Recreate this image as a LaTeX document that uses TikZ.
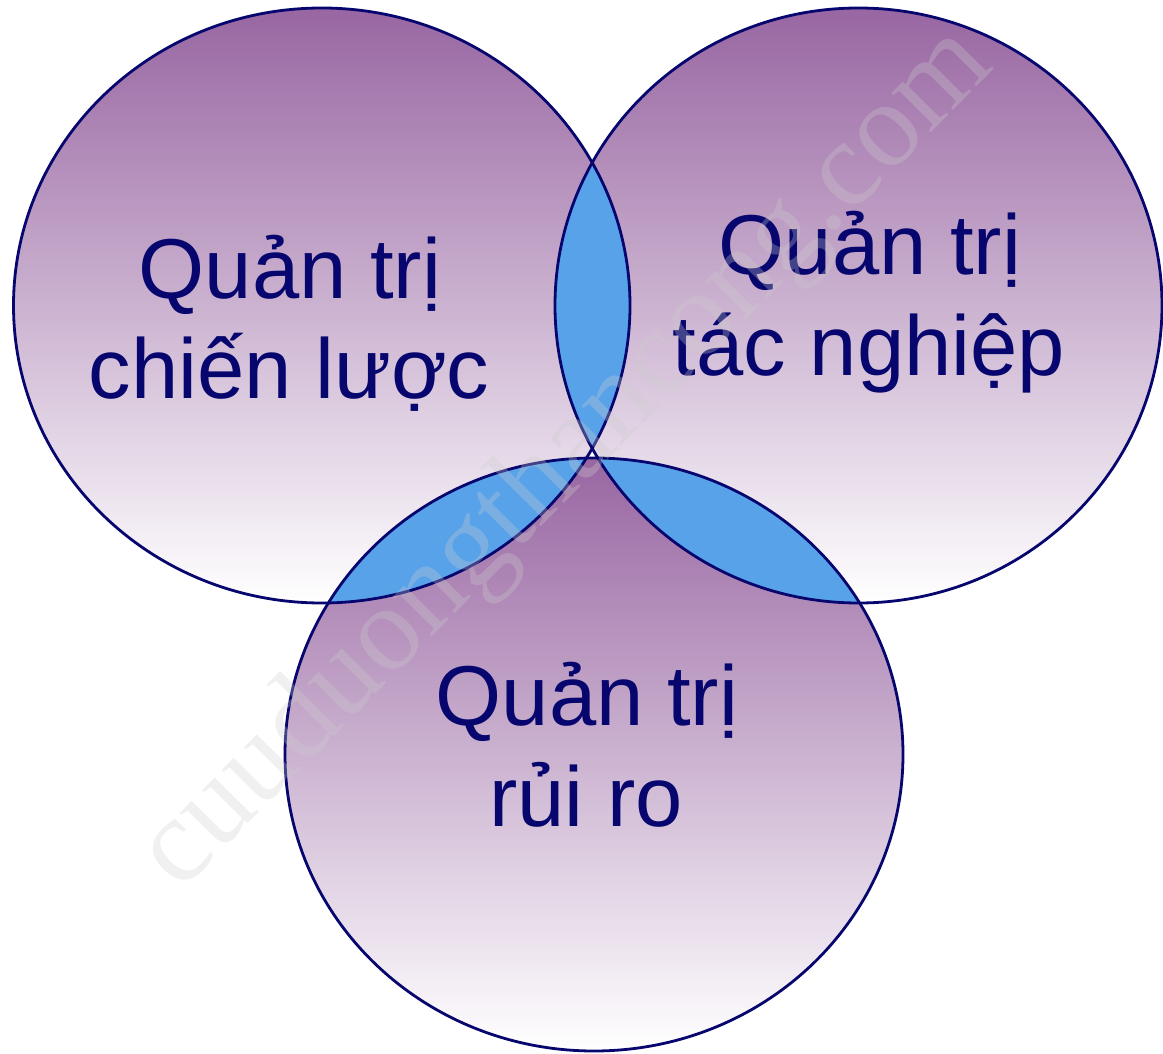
\documentclass[tikz,border=0pt]{standalone}
\usepackage{fontspec}
\setmainfont{Liberation Sans}
\newfontfamily\wmfont{Liberation Serif}
\definecolor{vpurple}{RGB}{152,102,162}
\definecolor{vblue}{RGB}{88,162,234}
\definecolor{vnavy}{RGB}{6,6,110}
\definecolor{wmgray}{RGB}{205,205,205}
\tikzset{
  setshade/.style={top color=vpurple, bottom color=white, draw=none},
  setline/.style={draw=vnavy, line width=2.8pt},
  lensfill/.style={fill=vblue},
  label/.style={text=vnavy, font=\fontsize{85}{100}\selectfont, anchor=base, inner sep=0pt},
  watermark/.style={text=wmgray, opacity=0.3, font=\wmfont\fontsize{121}{121}\selectfont, anchor=base, inner sep=0pt, rotate=45.3}
}
\begin{document}
\begin{tikzpicture}[x=1pt,y=-1pt]
\useasboundingbox (0,0) rectangle (1163,1054);
\def\circA{(321.75,305.5) ellipse [x radius=308.25, y radius=297.5]}
\def\circB{(858.5,305.5) ellipse [x radius=303.5, y radius=297.5]}
\def\circC{(594,754.5) ellipse [x radius=309, y radius=296.5]}
% shaded sets
\path[setshade] \circA;
\path[setshade] \circB;
\path[setshade] \circC;
% lenses
\begin{scope}
  \clip \circA;
  \path[lensfill] \circB;
\end{scope}
\begin{scope}
  \clip \circA;
  \path[lensfill] \circC;
\end{scope}
\begin{scope}
  \clip \circB;
  \path[lensfill] \circC;
\end{scope}
% outlines
\path[setline] \circA;
\path[setline] \circB;
\path[setline] \circC;
% labels
\node[label] (a1) at (290,298) {Quản trị};
\node[label] (a2) at (289,398) {chiến lược};
\node[label] (b1) at (870,274) {Quản trị};
\node[label] (b2) at (869,375) {tác nghiệp};
\node[label] (c1) at (587,725) {Quản trị};
\node[label] (c2) at (586,826) {rủi ro};
% watermark
\node[watermark] (wm) at (588,480) {cuuduongthancong.com};
\end{tikzpicture}
\end{document}
